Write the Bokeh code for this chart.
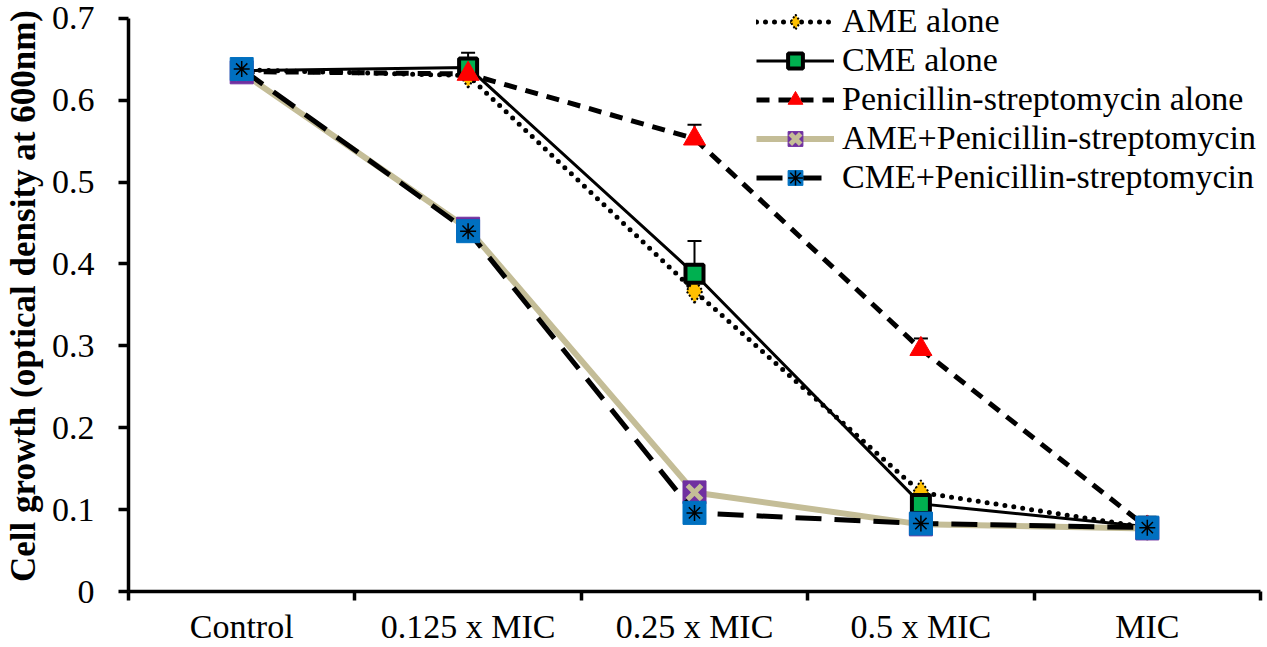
from bokeh.plotting import figure
from bokeh.models import ColumnDataSource, FixedTicker, Legend, LegendItem, Whisker, Range1d, TeeHead
from bokeh.embed import file_html
from bokeh.resources import INLINE

categories = ["Control", "0.125 x MIC", "0.25 x MIC", "0.5 x MIC", "MIC"]
ame_alone = [0.637, 0.630, 0.367, 0.121, 0.078]
cme_alone = [0.636, 0.640, 0.388, 0.107, 0.079]
ps_alone = [0.635, 0.632, 0.553, 0.296, 0.078]
ame_ps = [0.634, 0.443, 0.121, 0.082, 0.077]
cme_ps = [0.638, 0.440, 0.096, 0.083, 0.078]
cme_alone_err = [0.0, 0.018, 0.040, 0.0, 0.0]
ps_alone_err = [0.0, 0.0, 0.017, 0.013, 0.0]
y_ticks = [0, 0.1, 0.2, 0.3, 0.4, 0.5, 0.6, 0.7]
y_max = 0.7

FONT = "Liberation Serif"
xs = [i + 0.5 for i in range(len(categories))]

# frame starts at the top of the canvas (so the legend is not clipped);
# the y range is extended slightly so that 0.7 sits a little below the top
p = figure(width=1267, height=647, output_backend="svg", toolbar_location=None,
           x_range=Range1d(0, len(categories)), y_range=Range1d(0, y_max * 1.031),
           min_border_left=124, min_border_right=7, min_border_top=0, min_border_bottom=56)
p.outline_line_color = None
p.grid.grid_line_color = None
p.background_fill_color = "white"

# x axis
xa = p.xaxis[0]
xa.ticker = FixedTicker(ticks=xs, minor_ticks=list(range(len(categories) + 1)))
xa.major_label_overrides = {x: c for x, c in zip(xs, categories)}
xa.major_tick_line_color = None
xa.major_tick_out = 9
xa.major_tick_in = 0
xa.minor_tick_out = 9
xa.minor_tick_in = 0
xa.minor_tick_line_width = 3.5
xa.minor_tick_line_color = "black"
xa.axis_line_width = 3.5
xa.major_label_text_font = FONT
xa.major_label_text_font_size = "34px"
xa.major_label_text_color = "black"
xa.major_label_standoff = 7

ya = p.yaxis[0]
ya.ticker = FixedTicker(ticks=y_ticks)
ya.bounds = (0, y_max)
ya.major_label_overrides = {t: ("0" if t == 0 else f"{t:.1f}") for t in y_ticks}
ya.minor_tick_line_color = None
ya.major_tick_out = 10
ya.major_tick_in = 0
ya.major_tick_line_width = 3.5
ya.axis_line_width = 3.5
ya.major_label_text_font = FONT
ya.major_label_text_font_size = "34px"
ya.major_label_text_color = "black"
ya.major_label_standoff = 24
ya.axis_label = "Cell growth (optical density at 600nm)"
ya.axis_label_text_font = FONT
ya.axis_label_text_font_size = "35px"
ya.axis_label_text_font_style = "bold"
ya.axis_label_text_color = "black"
ya.axis_label_standoff = 6

items = []

# AME alone
src = ColumnDataSource(dict(x=xs, y=ame_alone))
l1 = p.line("x", "y", source=src, line_color="black", line_width=5, line_dash="0 9", line_cap="round")
m1 = p.scatter("x", "y", source=src, marker="diamond", size=24, fill_color="#FFC000",
               line_color="black", line_width=2, line_dash="2 2")
items.append(LegendItem(label="AME alone", renderers=[l1, m1]))

# CME alone
src = ColumnDataSource(dict(x=xs, y=cme_alone,
                            upper=[v + e for v, e in zip(cme_alone, cme_alone_err)]))
l2 = p.line("x", "y", source=src, line_color="black", line_width=3)
w2 = Whisker(source=src, base="x", upper="upper", lower="y", line_width=2, line_color="black",
             upper_head=TeeHead(size=14, line_width=2, line_color="black"), lower_head=None)
p.add_layout(w2)
m2 = p.scatter("x", "y", source=src, marker="square", size=18, fill_color="#00B050",
               line_color="black", line_width=4)
items.append(LegendItem(label="CME alone", renderers=[l2, m2]))

# Penicillin-streptomycin alone
src = ColumnDataSource(dict(x=xs, y=ps_alone,
                            upper=[v + e for v, e in zip(ps_alone, ps_alone_err)]))
l3 = p.line("x", "y", source=src, line_color="black", line_width=5, line_dash="13 9")
w3 = Whisker(source=src, base="x", upper="upper", lower="y", line_width=2, line_color="black",
             upper_head=TeeHead(size=14, line_width=2, line_color="black"), lower_head=None)
p.add_layout(w3)
m3 = p.scatter("x", "y", source=src, marker="triangle", size=22, fill_color="#FF0000",
               line_color="#FF0000", line_width=1)
items.append(LegendItem(label="Penicillin-streptomycin alone", renderers=[l3, m3]))

# AME + Penicillin-streptomycin
src = ColumnDataSource(dict(x=xs, y=ame_ps))
l4 = p.line("x", "y", source=src, line_color="#C4BD97", line_width=6)
m4 = p.scatter("x", "y", source=src, marker="square", size=23, fill_color="#7030A0",
               line_color="#7030A0", line_width=1)
m4b = p.scatter("x", "y", source=src, marker="x", size=20, line_color="#C4BD97", line_width=5)
items.append(LegendItem(label="AME+Penicillin-streptomycin", renderers=[l4, m4, m4b]))

# CME + Penicillin-streptomycin
src = ColumnDataSource(dict(x=xs, y=cme_ps))
l5 = p.line("x", "y", source=src, line_color="black", line_width=5, line_dash="26 13")
m5 = p.scatter("x", "y", source=src, marker="square", size=23, fill_color="#0070C0",
               line_color="#0070C0", line_width=1)
m5b = p.scatter("x", "y", source=src, marker="asterisk", size=16, line_color="black", line_width=1.5)
items.append(LegendItem(label="CME+Penicillin-streptomycin", renderers=[l5, m5, m5b]))

legend = Legend(items=items, location=(628, 395), orientation="vertical",
                label_text_font=FONT, label_text_font_size="34px", label_text_color="black",
                glyph_width=78, glyph_height=37, label_height=37, spacing=1,
                label_standoff=8, padding=0, margin=0,
                border_line_color=None, background_fill_alpha=0)
p.add_layout(legend, "center")

open("out.html", "w").write(file_html(p, INLINE))
